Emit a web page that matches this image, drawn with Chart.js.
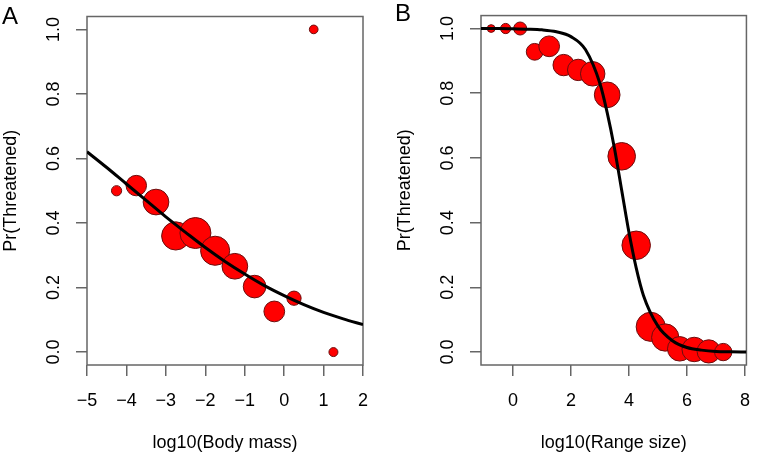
<!DOCTYPE html>
<html>
<head>
<meta charset="utf-8">
<script src="https://cdn.jsdelivr.net/npm/chart.js@4"></script>
<style>
  body { margin: 0; background: #fff; width: 762px; height: 455px; overflow: hidden; position: relative; font-family: 'Liberation Sans', Arial, sans-serif; }
  canvas { position: absolute; top: 0; }
  .tag { position: absolute; font-size: 24px; line-height: 1; color: #000; }
</style>
</head>
<body>
<canvas id="chartA" width="380" height="455" style="left:0"></canvas>
<canvas id="chartB" width="382" height="455" style="left:380px"></canvas>
<div class="tag" style="left:2px; top:4px">A</div>
<div class="tag" style="left:395px; top:1px">B</div>
<script>
// panel A: body mass bins
const massX = [-4.25, -3.75, -3.25, -2.75, -2.25, -1.75, -1.25, -0.75, -0.25, 0.25, 0.75, 1.25];
const massP = [0.50, 0.516, 0.465, 0.36, 0.369, 0.314, 0.266, 0.203, 0.126, 0.167, 1.0, 0.0];
const massN = [0.33, 0.66, 0.83, 0.91, 1.0, 0.94, 0.83, 0.73, 0.67, 0.46, 0.28, 0.29];
const massFitX = [-5, -4.5, -4, -3.5, -3, -2.5, -2, -1.5, -1, -0.5, 0, 0.5, 1, 1.5, 2];
const massFitP = [0.621, 0.572, 0.521, 0.470, 0.419, 0.371, 0.324, 0.281, 0.242, 0.206, 0.175, 0.147, 0.123, 0.103, 0.085];
const massTicks = [-5, -4, -3, -2, -1, 0, 1, 2];

// panel B: range size bins
const rangeX = [-0.75, -0.25, 0.25, 0.75, 1.25, 1.75, 2.25, 2.75, 3.25, 3.75, 4.25, 4.75, 5.25, 5.75, 6.25, 6.75, 7.25];
const rangeP = [1.0, 1.0, 1.0, 0.928, 0.945, 0.887, 0.872, 0.860, 0.795, 0.605, 0.33, 0.078, 0.045, 0.01, 0.008, 0.002, 0.0];
const rangeN = [0.25, 0.33, 0.42, 0.54, 0.67, 0.69, 0.69, 0.79, 0.83, 0.89, 0.92, 0.94, 0.88, 0.79, 0.79, 0.75, 0.56];
const rangeFitX = [-1.1, -0.5, 0, 0.5, 1, 1.5, 2, 2.5, 3, 3.25, 3.5, 3.75, 4, 4.25, 4.5, 5, 5.5, 6, 6.5, 7, 7.5, 8.05];
const rangeFitP = [1.0, 1.0, 0.999, 0.998, 0.996, 0.99, 0.975, 0.935, 0.83, 0.74, 0.63, 0.50, 0.37, 0.26, 0.175, 0.08, 0.035, 0.014, 0.006, 0.002, 0.001, 0.0];
const rangeTicks = [0, 2, 4, 6, 8];

const probTicks = [0, 0.2, 0.4, 0.6, 0.8, 1.0];

Chart.defaults.font.family = "'Liberation Sans', Arial, sans-serif";
Chart.defaults.font.size = 18;
Chart.defaults.color = '#000';

const axisGrey = '#666';

const boxPlugin = {
  id: 'box',
  beforeDatasetsDraw(chart) {
    const a = chart.chartArea;
    const ctx = chart.ctx;
    ctx.save();
    ctx.strokeStyle = axisGrey;
    ctx.lineWidth = 1.5;
    ctx.strokeRect(a.left, a.top, a.right - a.left, a.bottom - a.top);
    ctx.restore();
  }
};

function noPad(s) {
  s.paddingTop = 0;
  s.paddingBottom = 0;
  s.paddingLeft = 0;
  s.paddingRight = 0;
}

function minus(v) {
  return v < 0 ? '\u2212' + Math.abs(v) : String(v);
}

function panel(id, o) {
  new Chart(document.getElementById(id), {
    type: 'scatter',
    data: {
      datasets: [{
        type: 'line',
        data: o.fitX.map((x, i) => ({x: x, y: o.fitY[i]})),
        borderColor: '#000',
        borderWidth: 3,
        pointRadius: 0,
        cubicInterpolationMode: 'monotone',
        fill: false
      }, {
        data: o.x.map((x, i) => ({x: x, y: o.y[i]})),
        backgroundColor: '#ff0000',
        borderColor: '#6b0d0d',
        borderWidth: 1,
        pointRadius: ctx => 15.5 * o.n[ctx.dataIndex],
        pointHoverRadius: ctx => 15.5 * o.n[ctx.dataIndex],
        clip: false
      }]
    },
    options: {
      responsive: false,
      animation: false,
      events: [],
      layout: { padding: { left: 0, right: o.padRight, top: 12, bottom: 0 } },
      plugins: { legend: { display: false }, tooltip: { enabled: false } },
      scales: {
        x: {
          type: 'linear',
          min: o.xMin,
          max: o.xMax,
          afterBuildTicks: s => { s.ticks = o.ticks.map(v => ({value: v})); },
          afterFit: s => { s.height = 90; noPad(s); },
          ticks: { padding: 14, callback: v => minus(v), maxRotation: 0 },
          grid: { drawOnChartArea: false, drawTicks: true, tickLength: 11, color: axisGrey, lineWidth: 1.5 },
          border: { display: false },
          title: { display: true, text: o.xTitle, padding: { top: 0, bottom: 1 } }
        },
        y: {
          type: 'linear',
          min: -0.04,
          max: 1.04,
          afterBuildTicks: s => { s.ticks = probTicks.map(v => ({value: v})); },
          afterFit: s => { s.width = o.yWidth; noPad(s); },
          ticks: { padding: 9, minRotation: 90, maxRotation: 90, crossAlign: 'center', callback: v => v.toFixed(1) },
          grid: { drawOnChartArea: false, drawTicks: true, tickLength: 11, color: axisGrey, lineWidth: 1.5 },
          border: { display: false },
          title: { display: true, text: 'Pr(Threatened)', padding: { top: o.yTitlePad, bottom: 0 } }
        }
      }
    },
    plugins: [boxPlugin]
  });
}

panel('chartA', {
  x: massX, y: massP, n: massN, fitX: massFitX, fitY: massFitP, ticks: massTicks,
  xMin: -5, xMax: 2, xTitle: 'log10(Body mass)', yWidth: 87, padRight: 17, yTitlePad: 0
});

panel('chartB', {
  x: rangeX, y: rangeP, n: rangeN, fitX: rangeFitX, fitY: rangeFitP, ticks: rangeTicks,
  xMin: -1.1, xMax: 8.05, xTitle: 'log10(Range size)', yWidth: 101, padRight: 6, yTitlePad: 14
});
</script>
</body>
</html>
